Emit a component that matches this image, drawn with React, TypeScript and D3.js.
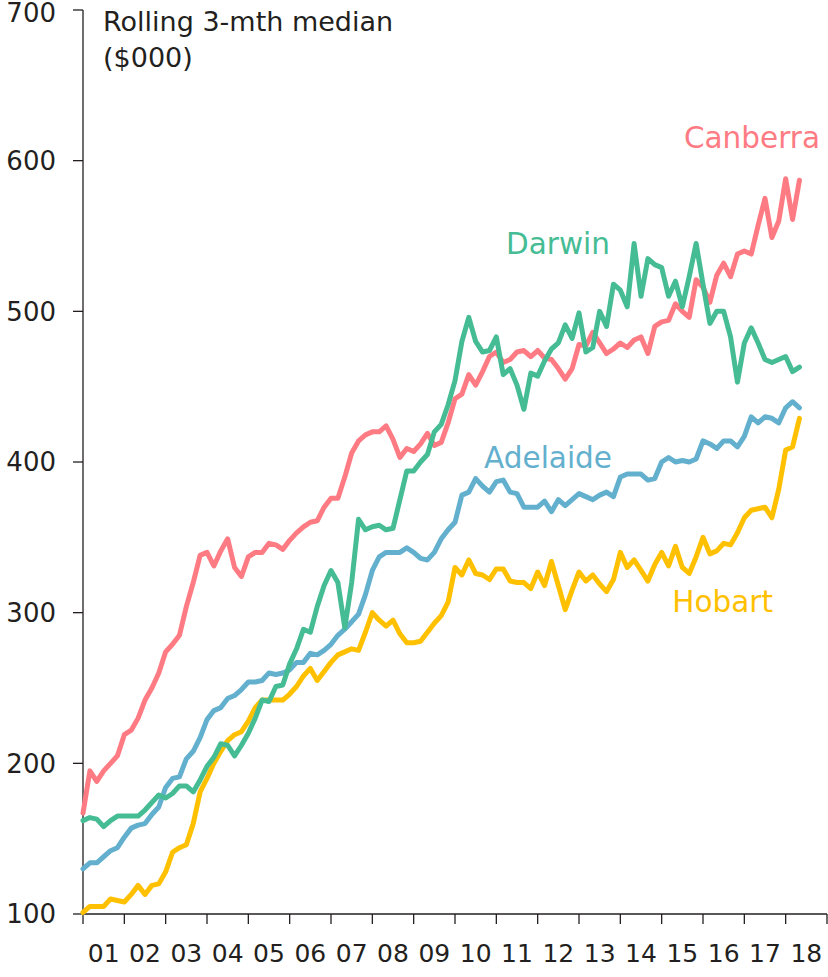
import React from "react";
import * as d3 from "d3";

// bi-monthly observations, Jan 2001 onward
const canberra = [
  167, 195, 188, 195, 200, 205, 219, 222, 230, 242, 250, 260,
  274, 279, 285, 304, 320, 338, 340, 331, 341, 349, 330, 324,
  337, 340, 340, 346, 345, 342, 348, 353, 357, 360, 361, 370,
  376, 376, 390, 406, 414, 418, 420, 420, 424, 415, 403, 409,
  407, 412, 419, 411, 413, 426, 442, 445, 458, 451, 460, 470,
  473, 466, 468, 473, 474, 470, 474, 469, 468, 462, 455, 462,
  478, 477, 486, 479, 472, 475, 479, 476, 481, 483, 472, 490,
  493, 494, 505, 500, 496, 521, 516, 506, 524, 532, 523, 538,
  540, 538, 557, 575, 549, 560, 588, 561, 587,
];
const darwin = [
  162, 164, 163, 158, 162, 165, 165, 165, 165, 169, 174, 179,
  177, 180, 185, 185, 181, 189, 198, 204, 213, 212, 205, 212,
  220, 230, 242, 241, 251, 252, 266, 276, 289, 287, 304, 318,
  328, 320, 290, 320, 362, 355, 357, 358, 355, 356, 375, 394,
  394, 400, 405, 420, 425, 438, 454, 480, 496, 480, 473, 474,
  483, 458, 462, 451, 435, 459, 457, 467, 475, 479, 491, 482,
  499, 473, 476, 500, 490, 518, 514, 503, 545, 510, 535, 531,
  529, 510, 520, 503, 523, 545, 518, 492, 500, 500, 483, 453,
  479, 489, 479, 468, 466, 468, 470, 460, 463,
];
const adelaide = [
  130, 134, 134, 138, 142, 144, 151, 157, 159, 160, 166, 171,
  184, 190, 191, 203, 208, 217, 229, 235, 237, 243, 245, 249,
  254, 254, 255, 260, 259, 260, 262, 267, 267, 273, 272, 275,
  279, 285, 289, 294, 299, 312, 328, 337, 340, 340, 340, 343,
  340, 336, 335, 340, 349, 355, 360, 378, 380, 389, 384, 380,
  387, 388, 380, 379, 370, 370, 370, 374, 367, 375, 371, 375,
  379, 377, 375, 378, 380, 377, 390, 392, 392, 392, 388, 389,
  400, 403, 400, 401, 400, 402, 414, 412, 409, 414, 414, 410,
  417, 430, 426, 430, 429, 426, 436, 440, 436,
];
const hobart = [
  101, 105, 105, 105, 110, 109, 108, 113, 119, 113, 119, 120,
  128, 141, 144, 146, 160, 181, 190, 200, 208, 215, 219, 221,
  228, 237, 242, 242, 242, 242, 246, 251, 258, 263, 255, 261,
  267, 272, 274, 276, 275, 287, 300, 295, 291, 295, 286, 280,
  280, 281, 287, 293, 298, 307, 330, 325, 335, 326, 325, 322,
  329, 329, 321, 320, 320, 316, 327, 318, 334, 318, 302, 315,
  327, 321, 325, 319, 314, 322, 340, 330, 335, 328, 321, 332,
  340, 331, 344, 330, 326, 337, 350, 339, 341, 346, 345, 353,
  363, 368, 369, 370, 363, 382, 408, 410, 429,
];

const years = d3.range(2001, 2019);
const yTicks = [100, 200, 300, 400, 500, 600, 700];

const series = [
  { name: "Hobart", values: hobart, color: "#FFC000", lx: 773, ly: 612 },
  { name: "Adelaide", values: adelaide, color: "#63B0CE", lx: 612, ly: 468 },
  { name: "Canberra", values: canberra, color: "#FF7B83", lx: 820, ly: 148 },
  { name: "Darwin", values: darwin, color: "#45BC94", lx: 610, ly: 254 },
];

const FONT = "'DejaVu Sans', sans-serif";
const INK = "#231F20";

export default function App() {
  const x = d3.scaleLinear().domain([2001, 2019]).range([83, 827]);
  const y = d3.scaleLinear().domain([100, 700]).range([914, 10]);

  const line = d3
    .line<number>()
    .x((_, i) => x(2001 + i / 6))
    .y((d) => y(d));

  return (
    <svg
      width={828}
      height={977}
      style={{ position: "absolute", left: 0, top: 0, background: "#fff" }}
      fontFamily={FONT}
    >
      {/* y axis */}
      <line x1={83} x2={83} y1={y(700)} y2={y(100)} stroke={INK} strokeWidth={1.3} />
      {yTicks.map((t) => (
        <g key={t}>
          <line x1={73} x2={83} y1={y(t)} y2={y(t)} stroke={INK} strokeWidth={1.3} />
          <text x={56} y={Math.max(y(t), 13)} dy="0.36em" textAnchor="end" fontSize={26} fill={INK}>
            {t}
          </text>
        </g>
      ))}

      {/* x axis */}
      <line x1={x(2001)} x2={x(2019)} y1={y(100)} y2={y(100)} stroke={INK} strokeWidth={1.3} />
      {[...years, 2019].map((yr) => (
        <line key={yr} x1={x(yr)} x2={x(yr)} y1={y(100)} y2={y(100) + 10} stroke={INK} strokeWidth={1.3} />
      ))}
      {years.map((yr) => (
        <text key={yr} x={x(yr + 0.5)} y={962} textAnchor="middle" fontSize={25} fill={INK}>
          {String(yr % 100).padStart(2, "0")}
        </text>
      ))}

      <text x={103} y={31} fontSize={27} fill={INK}>Rolling 3-mth median</text>
      <text x={103} y={67} fontSize={27} fill={INK}>($000)</text>

      {series.map((s) => (
        <path
          key={s.name}
          d={line(s.values) || ""}
          fill="none"
          stroke={s.color}
          strokeWidth={5}
          strokeLinejoin="round"
          strokeLinecap="round"
        />
      ))}
      {series.map((s) => (
        <text key={s.name + "-l"} x={s.lx} y={s.ly} textAnchor="end" fontSize={29.5} fill={s.color}>
          {s.name}
        </text>
      ))}
    </svg>
  );
}
